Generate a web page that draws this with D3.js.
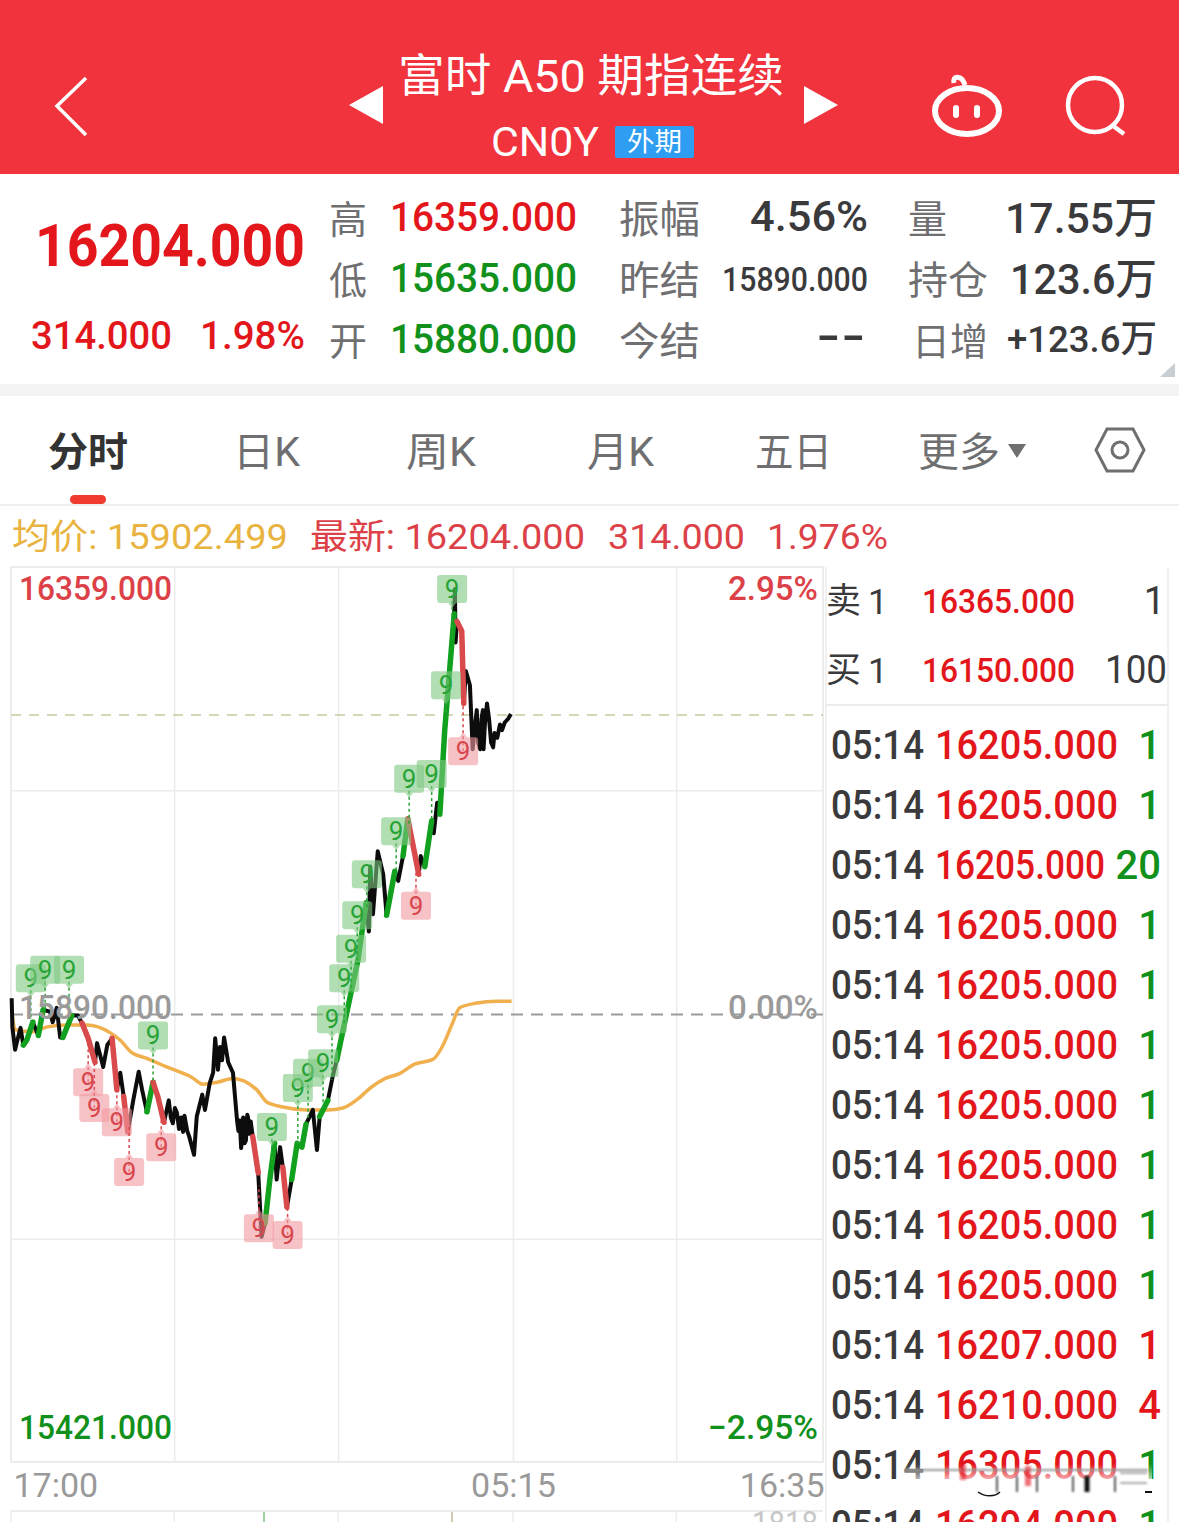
<!DOCTYPE html>
<html>
<head>
<meta charset="utf-8">
<script src="https://cdn.jsdelivr.net/npm/d3@7/dist/d3.min.js"></script>
<style>
  html, body { margin: 0; padding: 0; background: #fff; overflow: hidden; }
  svg { display: block; }
  text { font-family: Roboto, "Noto Sans CJK SC", sans-serif; }
</style>
</head>
<body>
<svg id="chart" width="1179" height="1522"></svg>
<script>
// minutes after 17:00 and last price
const times = [1,2,6,10,14,18,23,32,40,47,57,61,67,72,76,89,98,104,113,123,126,135,141,148,152,155,160,165,171,179,187,192,199,208,215,224,231,234,237,240,243,246,249,252,254,256,258,261,268,272,280,284,291,296,299,303,306,309,312,318,325,331,333,335,337,339,340,342,344,346,347,349,351,354,362,367,372,379,386,389,394,398,404,411,419,426,432,442,448,452,464,471,477,489,508,520,524,526,530,537,545,550,562,567,574,581,591,597,600,606,616,619,624,628,635,643,649,650,651,653,660,663,666,672,676,679,682,684,687,689,691,692,694,697,700,703,706,708,712,716,719,723,728,732];
const prices = [15907,15877,15853,15865,15876,15858,15863,15882,15868,15895,15893,15882,15897,15866,15866,15889,15889,15881,15865,15840,15860,15835,15858,15865,15835,15811,15829,15804,15767,15800,15830,15811,15788,15819,15804,15777,15800,15782,15776,15792,15787,15770,15782,15767,15784,15776,15768,15762,15743,15783,15806,15790,15818,15829,15865,15832,15856,15842,15866,15840,15829,15779,15768,15779,15750,15775,15782,15755,15758,15785,15782,15765,15778,15762,15724,15657,15671,15717,15755,15717,15751,15730,15688,15717,15755,15751,15775,15790,15748,15783,15800,15825,15842,15883,15947,16007,15977,16045,15995,16061,16037,15994,16040,16030,16056,16095,16059,16037,16056,16045,16093,16080,16112,16100,16187,16257,16310,16336,16280,16302,16292,16216,16250,16235,16168,16190,16209,16175,16168,16200,16209,16168,16195,16216,16200,16175,16170,16185,16180,16194,16188,16196,16200,16205];
const avgTimes = [1,6,32,53,82,111,145,160,177,199,228,265,281,302,325,360,375,398,433,463,486,507,528,548,569,591,618,632,646,657,682,711,733];
const avgPrices = [15895,15874,15872,15877,15879,15879,15871,15863,15850,15844,15835,15824,15817,15819,15823,15811,15798,15793,15790,15790,15792,15801,15814,15823,15828,15838,15843,15857,15880,15897,15902,15904,15904];

// coloured stretches of the price line: [from minute, to minute]
const greenRuns = [[18,32],[40,47],[76,89],[199,208],[372,386],[411,432],[452,464],[477,520],[550,562],[574,581],[606,616],[628,649]];
const redRuns = [[104,123],[148,155],[165,171],[208,224],[354,362],[398,404],[581,597],[653,663]];

// "9" signals: minute on the line and price level of the tag
const greenNineTimes = [29,50,85,208,382,420,435,457,470,488,498,507,521,564,583,616,637,646];
const greenNineLevels = [15928,15937,15937,15868,15772,15813,15829,15839,15885,15928,15959,15994,16037,16082,16137,16142,16235,16336];
const redNineTimes = [113,122,155,173,220,363,405,593,662];
const redNineLevels = [15819,15792,15777,15725,15751,15666,15659,16004,16166];

const priceMax = 16359, priceMin = 15421, prevSettle = 15890, lastPrice = 16204;
const sessionMinutes = 1189;
const xGridMinutes = [239,479,735,974];
const yGridPrices = [16125,15655];
const xTickMinutes = [0,735,1189];
const xTickLabels = ["17:00","05:15","16:35"];

const tabNames = ["分时","日K","周K","月K","五日","更多"];
const tradeTimes = ["05:14","05:14","05:14","05:14","05:14","05:14","05:14","05:14","05:14","05:14","05:14","05:14","05:14","05:14"];
const tradePrices = ["16205.000","16205.000","16205.000","16205.000","16205.000","16205.000","16205.000","16205.000","16205.000","16205.000","16207.000","16210.000","16305.000","16294.000"];
const tradeVolumes = ["1","1","20","1","1","1","1","1","1","1","1","4","1","1"];
const tradeSides = ["g","g","g","g","g","g","g","g","g","g","r","r","g","g"];

const RED = "#e3161b", SOFTRED = "#dc4148", GREEN = "#11911b", DARK = "#3a3a3c", GREY = "#6f6f72", AXIS = "#9a9a9a", LINE = "#ececec";

const svg = d3.select("#chart");

function label(txt, x, y, size, fill, opts) {
  opts = opts || {};
  const t = svg.append("text")
    .attr("x", x).attr("y", y)
    .attr("font-size", size)
    .attr("fill", fill)
    .attr("text-anchor", opts.anchor || "start")
    .attr("font-weight", opts.weight || 400)
    .text(txt);
  if (opts.w) t.attr("textLength", opts.w).attr("lengthAdjust", "spacingAndGlyphs");
  return t;
}

// ---- header ----
svg.append("rect").attr("width", 1179).attr("height", 174).attr("fill", "#f0333c");
svg.append("path").attr("d", "M86,78L57,106L86,135").attr("fill", "none").attr("stroke", "#fff").attr("stroke-width", 3.5);
svg.append("path").attr("d", "M383,86L349,105L383,124Z").attr("fill", "#fff");
svg.append("path").attr("d", "M804,86L838,105L804,124Z").attr("fill", "#fff");
label("富时 A50 期指连续", 398, 92, 45, "#fff", {w: 386});
label("CN0Y", 491, 156, 40, "#fff", {w: 108});
svg.append("rect").attr("x", 615).attr("y", 126).attr("width", 79).attr("height", 32).attr("rx", 2).attr("fill", "#2e9df2");
label("外期", 627, 151, 26, "#fff", {w: 55});
// robot icon
svg.append("path").attr("d", "M954,83C952,75 962,75 965,85").attr("fill", "none").attr("stroke", "#fff").attr("stroke-width", 5);
svg.append("ellipse").attr("cx", 967).attr("cy", 111).attr("rx", 32).attr("ry", 23).attr("fill", "none").attr("stroke", "#fff").attr("stroke-width", 6);
svg.append("rect").attr("x", 953).attr("y", 105).attr("width", 6).attr("height", 13).attr("rx", 3).attr("fill", "#fff");
svg.append("rect").attr("x", 974).attr("y", 105).attr("width", 6).attr("height", 13).attr("rx", 3).attr("fill", "#fff");
// search icon
svg.append("circle").attr("cx", 1095).attr("cy", 105).attr("r", 27).attr("fill", "none").attr("stroke", "#fff").attr("stroke-width", 4.5);
svg.append("path").attr("d", "M1112,125L1124,134").attr("stroke", "#fff").attr("stroke-width", 4.5);

// ---- quote block ----
label("16204.000", 35, 266, 60, RED, {w: 270, weight: 700});
label("314.000", 31, 349, 38, RED, {w: 141, weight: 500});
label("1.98%", 200, 349, 38, RED, {w: 105, weight: 500});
[["高","16359.000",RED,231],["低","15635.000",GREEN,292],["开","15880.000",GREEN,353]].forEach(d => {
  label(d[0], 329, d[3] + 2, 38, GREY, {w: 38});
  label(d[1], 390, d[3], 41, d[2], {w: 187, weight: 500});
});
[["振幅",231],["昨结",292],["今结",353]].forEach(d => label(d[0], 619, d[1] + 2, 39, GREY, {w: 81}));
label("4.56%", 868, 231, 43, DARK, {anchor: "end", w: 118, weight: 500});
label("15890.000", 868, 291, 34, DARK, {anchor: "end", w: 146, weight: 500});
label("--", 866, 350, 40, DARK, {anchor: "end", w: 50, weight: 700});
label("量", 908, 233, 39, GREY, {w: 39});
label("持仓", 908, 294, 39, GREY, {w: 80});
label("日增", 912, 355, 38, GREY, {w: 76});
label("17.55万", 1157, 233, 42, DARK, {anchor: "end", w: 152, weight: 500});
label("123.6万", 1157, 294, 42, DARK, {anchor: "end", w: 147, weight: 500});
label("+123.6万", 1157, 352, 37, DARK, {anchor: "end", w: 150, weight: 500});
svg.append("path").attr("d", "M1175,363L1175,377L1160,377Z").attr("fill", "#c9ced3");
svg.append("rect").attr("y", 384).attr("width", 1179).attr("height", 12).attr("fill", "#f4f4f5");

// ---- tabs ----
const tabX = [48,233,406,587,755,918], tabW = [80,67,70,67,77,82];
tabNames.forEach((name, i) => {
  label(name, tabX[i], 466, 40, i === 0 ? "#333" : GREY, {w: tabW[i], weight: i === 0 ? 700 : 400});
});
svg.append("path").attr("d", "M1008,444L1026,444L1017,458Z").attr("fill", GREY);
svg.append("path").attr("d", "M1107,429L1133,429L1144,450L1133,471L1107,471L1096,450Z").attr("fill", "none").attr("stroke", GREY).attr("stroke-width", 3);
svg.append("circle").attr("cx", 1120).attr("cy", 450).attr("r", 8).attr("fill", "none").attr("stroke", GREY).attr("stroke-width", 3);
svg.append("rect").attr("x", 70).attr("y", 495).attr("width", 36).attr("height", 9).attr("rx", 4.5).attr("fill", "#f0392f");
svg.append("rect").attr("y", 504).attr("width", 1179).attr("height", 2).attr("fill", "#efefef");

label("均价: 15902.499", 12, 549, 35, "#e8b33e", {w: 276});
label("最新: 16204.000", 310, 549, 35, SOFTRED, {w: 275});
label("314.000", 608, 549, 35, SOFTRED, {w: 137});
label("1.976%", 767, 549, 35, SOFTRED, {w: 121});

// ---- price chart ----
const x = d3.scaleLinear().domain([0, sessionMinutes]).range([11, 823]);
const y = d3.scaleLinear().domain([priceMin, priceMax]).range([1462, 567]);
const plot = svg.append("g");

plot.append("rect").attr("x", 11).attr("y", 567).attr("width", 812).attr("height", 895)
  .attr("fill", "#fff").attr("stroke", "#e6e6e6").attr("stroke-width", 1.5);

const gridX = plot.append("g").attr("transform", "translate(0,1462)")
  .call(d3.axisBottom(x).tickValues(xGridMinutes).tickSize(-895).tickFormat(""));
const gridY = plot.append("g").attr("transform", "translate(11,0)")
  .call(d3.axisLeft(y).tickValues(yGridPrices).tickSize(-812).tickFormat(""));
[gridX, gridY].forEach(g => {
  g.select(".domain").remove();
  g.selectAll("line").attr("stroke", LINE).attr("stroke-width", 1.5);
});

// reference dashes
plot.append("line").attr("x1", 11).attr("x2", 823).attr("y1", y(prevSettle)).attr("y2", y(prevSettle))
  .attr("stroke", "#9b9b9b").attr("stroke-width", 2).attr("stroke-dasharray", "12 8");
plot.append("line").attr("x1", 11).attr("x2", 823).attr("y1", y(lastPrice)).attr("y2", y(lastPrice))
  .attr("stroke", "#d5d8b6").attr("stroke-width", 2).attr("stroke-dasharray", "10 8");

label(priceMax.toFixed(3), 19, 600, 33, SOFTRED, {w: 153, weight: 500});
label("2.95%", 818, 600, 33, SOFTRED, {anchor: "end", w: 90, weight: 500});
label(prevSettle.toFixed(3), 19, 1019, 33, AXIS, {w: 153, weight: 500});
label("0.00%", 818, 1019, 33, AXIS, {anchor: "end", w: 90, weight: 500});
label(priceMin.toFixed(3), 19, 1439, 33, GREEN, {w: 153, weight: 500});
label("\u22122.95%", 818, 1439, 33, GREEN, {anchor: "end", w: 110, weight: 500});

const axisX = plot.append("g").attr("transform", "translate(0,1462)")
  .call(d3.axisBottom(x).tickValues(xTickMinutes).tickSize(0).tickFormat((d, i) => xTickLabels[i]));
axisX.select(".domain").remove();
axisX.selectAll("text")
  .attr("font-size", 34).attr("fill", AXIS).attr("font-family", "Roboto").attr("y", 8).attr("dy", "0.8em")
  .attr("text-anchor", (d, i) => ["start","middle","end"][i])
  .attr("dx", (d, i) => [2,0,1][i]);

const points = times.map((t, i) => ({t: t, p: prices[i]}));
const line = d3.line().x(d => x(d.t)).y(d => y(d.p));

plot.append("path")
  .attr("d", d3.line().x(d => x(d.t)).y(d => y(d.p)).curve(d3.curveMonotoneX)(avgTimes.map((t, i) => ({t: t, p: avgPrices[i]}))))
  .attr("fill", "none").attr("stroke", "#f0b04e").attr("stroke-width", 3.5);

plot.append("path").attr("d", line(points))
  .attr("fill", "none").attr("stroke", "#0c0c0c").attr("stroke-width", 4).attr("stroke-linejoin", "round");

function drawRuns(runs, colour) {
  plot.selectAll(null).data(runs).enter().append("path")
    .attr("d", r => line(points.filter(d => d.t >= r[0] && d.t <= r[1])))
    .attr("fill", "none").attr("stroke", colour).attr("stroke-width", 5.5)
    .attr("stroke-linecap", "round").attr("stroke-linejoin", "round");
}
drawRuns(greenRuns, "#12a01f");
drawRuns(redRuns, "#d94a4c");

const priceAt = d3.scaleLinear().domain(times).range(prices);

function drawNines(ts, levels, above) {
  const fill = above ? "#7ec882" : "#f29aa0";
  const ink = above ? "#28a436" : "#d8474d";
  ts.forEach((t, i) => {
    const cx = x(t), cy = y(levels[i]);
    plot.append("line").attr("x1", cx).attr("x2", cx).attr("y1", cy).attr("y2", y(priceAt(t)))
      .attr("stroke", ink).attr("stroke-width", 1.5).attr("stroke-dasharray", "3 3");
    const tip = above ? 14 : -14, dir = above ? 1 : -1;
    plot.append("path")
      .attr("d", `M${cx-4},${cy+tip}L${cx},${cy+tip+5*dir}L${cx+4},${cy+tip}Z`)
      .attr("fill", fill).attr("opacity", 0.6);
    plot.append("rect").attr("x", cx-15).attr("y", cy-14).attr("width", 30).attr("height", 28).attr("rx", 3)
      .attr("fill", fill).attr("opacity", 0.6);
    plot.append("text").attr("x", cx).attr("y", cy+9).attr("text-anchor", "middle")
      .attr("font-size", 26).attr("fill", ink).text("9");
  });
}
drawNines(greenNineTimes, greenNineLevels, true);
drawNines(redNineTimes, redNineLevels, false);

// ---- order book ----
svg.append("line").attr("x1", 1168).attr("x2", 1168).attr("y1", 567).attr("y2", 1522).attr("stroke", "#ececec").attr("stroke-width", 1.5);
svg.append("line").attr("x1", 826).attr("x2", 826).attr("y1", 567).attr("y2", 1522).attr("stroke", "#ececec").attr("stroke-width", 1.5);
svg.append("line").attr("x1", 826).attr("x2", 1168).attr("y1", 705).attr("y2", 705).attr("stroke", "#ececec").attr("stroke-width", 2);
label("卖", 826, 613, 35, DARK, {w: 35});
label("1", 868, 614, 35, DARK);
label("买", 826, 682, 35, DARK, {w: 35});
label("1", 868, 683, 35, DARK);
label("16365.000", 922, 613, 34, RED, {w: 153, weight: 500});
label("16150.000", 922, 682, 34, RED, {w: 153, weight: 500});
label("1", 1165, 614, 38, DARK, {anchor: "end"});
label("100", 1167, 683, 38, DARK, {anchor: "end", w: 62});

tradeTimes.forEach((tm, i) => {
  const rowY = 759 + 60 * i;
  label(tm, 831, rowY, 40, DARK, {w: 93, weight: 500});
  const narrow = tradeVolumes[i].length > 1;
  label(tradePrices[i], 935, rowY, 40, RED, {w: narrow ? 170 : 183, weight: 500});
  label(tradeVolumes[i], 1161, rowY, 40, tradeSides[i] === "g" ? GREEN : RED, {anchor: "end", weight: 500});
});

// blurred watermark over the last full row
const defs = svg.append("defs");
const fade = defs.append("linearGradient").attr("id", "wm").attr("x1", 0).attr("x2", 0).attr("y1", 0).attr("y2", 1);
fade.append("stop").attr("offset", "0").attr("stop-color", "#fff").attr("stop-opacity", 0);
fade.append("stop").attr("offset", "0.7").attr("stop-color", "#fff").attr("stop-opacity", 1);
fade.append("stop").attr("offset", "1").attr("stop-color", "#fff").attr("stop-opacity", 1);
defs.append("filter").attr("id", "soft").append("feGaussianBlur").attr("stdDeviation", 1.2);
svg.append("rect").attr("x", 904).attr("y", 1464).attr("width", 248).attr("height", 34).attr("fill", "url(#wm)");
const mark = svg.append("g").attr("filter", "url(#soft)");
mark.append("path").attr("d", "M905,1470L1148,1470").attr("stroke", "#999").attr("stroke-width", 2);
mark.append("path").attr("d", "M963,1464L963,1480M1028,1466L1028,1486").attr("stroke", "#e3161b").attr("stroke-width", 6).attr("opacity", 0.6);
mark.append("path").attr("d", "M1087,1476L1087,1492").attr("stroke", "#111").attr("stroke-width", 5);
mark.append("path").attr("d", "M997,1476L997,1492M1017,1476L1017,1492M1037,1476L1037,1492M1073,1476L1073,1492M1115,1476L1115,1492").attr("stroke", "#555").attr("stroke-width", 2);
mark.append("path").attr("d", "M1120,1473L1147,1473M1120,1483L1147,1483").attr("stroke", "#aaa").attr("stroke-width", 2);
svg.append("path").attr("d", "M978,1492C985,1497 995,1497 1000,1492").attr("fill", "none").attr("stroke", "#111").attr("stroke-width", 1.5);
svg.append("path").attr("d", "M1145,1492L1152,1492").attr("stroke", "#111").attr("stroke-width", 2);

// ---- start of the volume panel below ----
svg.append("line").attr("x1", 11).attr("x2", 823).attr("y1", 1511).attr("y2", 1511).attr("stroke", "#e6e6e6").attr("stroke-width", 1.5);
xGridMinutes.forEach(t => {
  svg.append("line").attr("x1", x(t)).attr("x2", x(t)).attr("y1", 1511).attr("y2", 1522).attr("stroke", LINE).attr("stroke-width", 1.5);
});
svg.append("line").attr("x1", 11).attr("x2", 11).attr("y1", 1511).attr("y2", 1522).attr("stroke", LINE).attr("stroke-width", 1.5);
svg.append("line").attr("x1", 264).attr("x2", 264).attr("y1", 1512).attr("y2", 1522).attr("stroke", "#7fbf7f").attr("stroke-width", 1.5);
svg.append("line").attr("x1", 452).attr("x2", 452).attr("y1", 1512).attr("y2", 1522).attr("stroke", "#c9b79a").attr("stroke-width", 1.5);
label("1818", 818, 1535, 33, "#c8c8c8", {anchor: "end", w: 66});
</script>
</body>
</html>
